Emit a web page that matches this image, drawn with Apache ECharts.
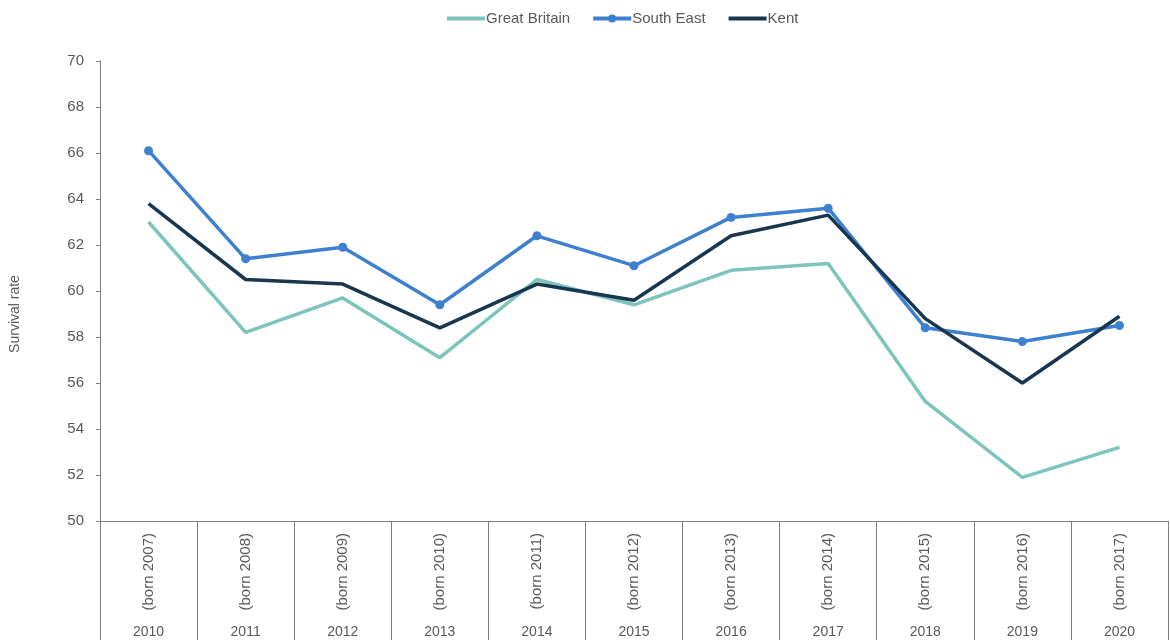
<!DOCTYPE html>
<html>
<head>
<meta charset="utf-8">
<script src="https://cdn.jsdelivr.net/npm/echarts@6/dist/echarts.min.js"></script>
<style>html,body{margin:0;padding:0;background:#fff;}#c{width:1170px;height:640px;}</style>
</head>
<body>
<div id="c"></div>
<script>
const years = ['2010','2011','2012','2013','2014','2015','2016','2017','2018','2019','2020'];
const bornLabels = ['(born 2007)','(born 2008)','(born 2009)','(born 2010)','(born 2011)','(born 2012)','(born 2013)','(born 2014)','(born 2015)','(born 2016)','(born 2017)'];
const greatBritain = [63.0, 58.2, 59.7, 57.1, 60.5, 59.4, 60.9, 61.2, 55.2, 51.9, 53.2];
const southEast = [66.1, 61.4, 61.9, 59.4, 62.4, 61.1, 63.2, 63.6, 58.4, 57.8, 58.5];
const kent = [63.8, 60.5, 60.3, 58.4, 60.3, 59.6, 62.4, 63.3, 58.8, 56.0, 58.9];

const txt = '#595959';
const font = 'Liberation Sans, Arial, sans-serif';
const chart = echarts.init(document.getElementById('c'));
chart.setOption({
  animation: false,
  textStyle: { fontFamily: font },
  legend: {
    top: 6, left: 440, itemGap: 21, itemWidth: 38, itemHeight: 10,
    textStyle: { color: txt, fontSize: 15, fontFamily: font, padding: [0, 0, 0, -4] },
    lineStyle: { width: 4 },
    data: [
      { name: 'Great Britain', itemStyle: { opacity: 0 } },
      { name: 'South East' },
      { name: 'Kent', itemStyle: { opacity: 0 } }
    ]
  },
  grid: { left: 99, right: 2, top: 61, bottom: 119, containLabel: false },
  xAxis: [
    {
      type: 'category', data: years, boundaryGap: true, position: 'bottom', offset: 0,
      axisLine: { show: true, lineStyle: { color: '#7f7f7f', width: 1 } },
      axisTick: { show: true, interval: 0, length: 120, lineStyle: { color: '#7f7f7f' } },
      axisLabel: { interval: 0, margin: 104, color: txt, fontSize: 14, fontFamily: font }
    },
    {
      type: 'category', data: bornLabels, boundaryGap: true, position: 'bottom', offset: 0,
      axisLine: { show: false }, axisTick: { show: false },
      axisLabel: { interval: 0, rotate: 90, margin: 12, color: txt, fontSize: 15, fontFamily: font }
    }
  ],
  yAxis: {
    type: 'value', min: 50, max: 70, interval: 2,
    name: 'Survival rate', nameLocation: 'middle', nameGap: 78,
    nameTextStyle: { color: txt, fontSize: 14, fontFamily: font, padding: [0, 46, 0, 0] },
    axisLine: { show: true, lineStyle: { color: '#7f7f7f' } },
    axisTick: { show: true, length: 4, lineStyle: { color: '#7f7f7f' } },
    axisLabel: { color: txt, fontSize: 15, margin: 16, fontFamily: font },
    splitLine: { show: false }
  },
  series: [
    { name: 'Great Britain', type: 'line', data: greatBritain, symbol: 'none',
      lineStyle: { color: '#7cc4bc', width: 3.5 }, itemStyle: { color: '#7cc4bc' } },
    { name: 'South East', type: 'line', data: southEast, symbol: 'circle', symbolSize: 9,
      lineStyle: { color: '#3d80cf', width: 3.5 }, itemStyle: { color: '#3d80cf' } },
    { name: 'Kent', type: 'line', data: kent, symbol: 'none',
      lineStyle: { color: '#17364f', width: 3.5 }, itemStyle: { color: '#17364f' } }
  ]
});
</script>
</body>
</html>
